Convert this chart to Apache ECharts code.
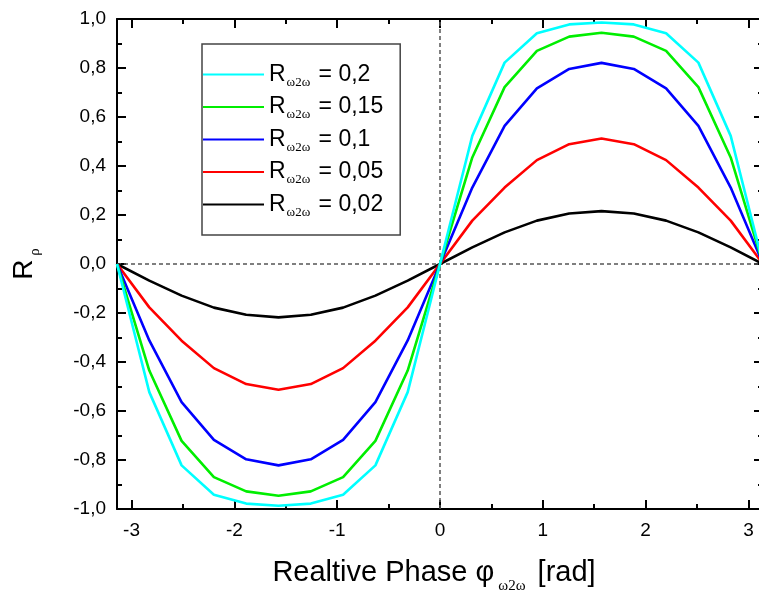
<!DOCTYPE html>
<html>
<head>
<meta charset="utf-8">
<script src="https://cdn.jsdelivr.net/npm/echarts@6/dist/echarts.min.js"></script>
<style>
  html, body { margin: 0; padding: 0; background: #fff; }
  #main { width: 759px; height: 593px; }
</style>
</head>
<body>
<div id="main"></div>
<script>
// relative phase (rad), 21 points from -pi to pi
var phase = [-3.1416, -2.8274, -2.5133, -2.1991, -1.885, -1.5708, -1.2566, -0.9425, -0.6283, -0.3142, 0,
  0.3142, 0.6283, 0.9425, 1.2566, 1.5708, 1.885, 2.1991, 2.5133, 2.8274, 3.1416];

var rho020 = [0, -0.523, -0.822, -0.942, -0.978, -0.987, -0.978, -0.942, -0.822, -0.523, 0,
  0.523, 0.822, 0.942, 0.978, 0.986, 0.978, 0.942, 0.822, 0.523, 0];
var rho015 = [0, -0.435, -0.722, -0.870, -0.928, -0.946, -0.928, -0.870, -0.722, -0.435, 0,
  0.435, 0.722, 0.870, 0.928, 0.944, 0.928, 0.870, 0.722, 0.435, 0];
var rho010 = [0, -0.312, -0.564, -0.718, -0.797, -0.822, -0.797, -0.718, -0.564, -0.312, 0,
  0.312, 0.564, 0.717, 0.796, 0.821, 0.796, 0.717, 0.564, 0.312, 0];
var rho005 = [0, -0.177, -0.313, -0.425, -0.490, -0.513, -0.490, -0.425, -0.313, -0.177, 0,
  0.177, 0.312, 0.424, 0.489, 0.512, 0.489, 0.424, 0.312, 0.177, 0];
var rho002 = [0, -0.068, -0.129, -0.178, -0.207, -0.218, -0.207, -0.178, -0.129, -0.068, 0,
  0.068, 0.129, 0.177, 0.206, 0.216, 0.206, 0.177, 0.129, 0.068, 0];

var names = ['0,2', '0,15', '0,1', '0,05', '0,02'];
var colors = ['#00ffff', '#00ee00', '#0000ff', '#ff0000', '#000000'];
var values = [rho020, rho015, rho010, rho005, rho002];

var xMajor = [-3, -2, -1, 0, 1, 2, 3];
var xMinor = [-2.5, -1.5, -0.5, 0.5, 1.5, 2.5];

var font = 'Liberation Sans, Arial, Helvetica, sans-serif';
var serif = 'Liberation Serif, Times New Roman, serif';

function pairs(ys) {
  return ys.map(function (y, i) { return [phase[i], y]; });
}

var chart = echarts.init(document.getElementById('main'), null, { renderer: 'canvas' });

var series = values.map(function (ys, i) {
  return {
    name: names[i],
    type: 'line',
    data: pairs(ys),
    showSymbol: false,
    symbol: 'none',
    animation: false,
    z: 10 - i,
    lineStyle: { color: colors[i], width: 2.6 },
    itemStyle: { color: colors[i] }
  };
});

// zero lines
series[4].markLine = {
  silent: true,
  symbol: 'none',
  label: { show: false },
  lineStyle: { color: '#555', type: [4, 3], width: 1.5 },
  data: [{ xAxis: 0 }, { yAxis: 0 }]
};

function xAxisDef(pos, ticks, len, showLine, label) {
  return {
    type: 'value',
    position: pos,
    min: -Math.PI,
    max: Math.PI,
    axisLine: { show: showLine, onZero: false, lineStyle: { color: '#000', width: 2 } },
    axisTick: { show: true, inside: true, length: len, customValues: ticks, lineStyle: { color: '#000', width: 2 } },
    axisLabel: label ? { show: true, customValues: xMajor, color: '#000', fontSize: 19, fontFamily: font, margin: 12 } : { show: false },
    splitLine: { show: false }
  };
}

var option = {
  backgroundColor: '#fff',
  animation: false,
  grid: { left: 117, top: 19, width: 646, height: 490, containLabel: false, outerBoundsMode: 'none' },
  legend: {
    orient: 'vertical',
    left: 202,
    top: 44,
    data: names,
    itemWidth: 61,
    itemHeight: 14,
    itemGap: 3.5,
    itemTextGap: 7,
    backgroundColor: '#fff',
    borderColor: '#444',
    borderWidth: 1.5,
    padding: [16, 17, 16, 1],
    icon: 'path://M0,6 L61,6 L61,8 L0,8 Z',
    formatter: function (name) {
      return '{r|R}{s|ω2ω}{r| = ' + name + '}';
    },
    textStyle: {
      rich: {
        r: { fontSize: 23, fontFamily: font, color: '#000', lineHeight: 26 },
        s: { fontSize: 13, fontFamily: serif, color: '#000', lineHeight: 26, padding: [16, 2, 0, 1] }
      }
    }
  },
  xAxis: [
    Object.assign(xAxisDef('bottom', xMajor, 9, true, true), {
      name: '{r|Realtive Phase φ}{s|ω2ω}{t| [rad]}',
      nameLocation: 'middle',
      nameGap: 47,
      nameTextStyle: {
        rich: {
          r: { fontSize: 29, fontFamily: font, color: '#000', lineHeight: 34 },
          t: { fontSize: 29, fontFamily: font, color: '#000', lineHeight: 34, padding: [0, 12, 0, 0] },
          s: { fontSize: 15, fontFamily: serif, color: '#000', lineHeight: 34, padding: [27, 4, 0, 4] }
        }
      }
    }),
    xAxisDef('bottom', xMinor, 5, false, false),
    xAxisDef('top', xMajor, 9, true, false),
    xAxisDef('top', xMinor, 5, false, false)
  ],
  yAxis: [
    {
      type: 'value',
      min: -1,
      max: 1,
      interval: 0.2,
      position: 'left',
      axisLine: { show: true, onZero: false, lineStyle: { color: '#000', width: 2 } },
      axisTick: { inside: true, length: 9, lineStyle: { color: '#000', width: 2 } },
      minorTick: { show: true, splitNumber: 2, length: 5, lineStyle: { color: '#000', width: 2 } },
      axisLabel: {
        color: '#000', fontSize: 19, fontFamily: font, margin: 11,
        formatter: function (v) { return v.toFixed(1).replace('.', ','); }
      },
      splitLine: { show: false },
      name: '{r|R}{s|ρ}',
      nameLocation: 'middle',
      nameRotate: 90,
      nameGap: 76,
      nameTextStyle: {
        rich: {
          r: { fontSize: 28, fontFamily: font, color: '#000', lineHeight: 34 },
          s: { fontSize: 15, fontFamily: serif, color: '#000', lineHeight: 34, padding: [22, 0, 0, 4] }
        }
      }
    },
    {
      type: 'value',
      min: -1,
      max: 1,
      interval: 0.2,
      position: 'right',
      axisLine: { show: true, onZero: false, lineStyle: { color: '#000', width: 2 } },
      axisTick: { inside: true, length: 9, lineStyle: { color: '#000', width: 2 } },
      minorTick: { show: true, splitNumber: 2, length: 5, lineStyle: { color: '#000', width: 2 } },
      axisLabel: { show: false },
      splitLine: { show: false }
    }
  ],
  series: series
};

chart.setOption(option);
</script>
</body>
</html>
